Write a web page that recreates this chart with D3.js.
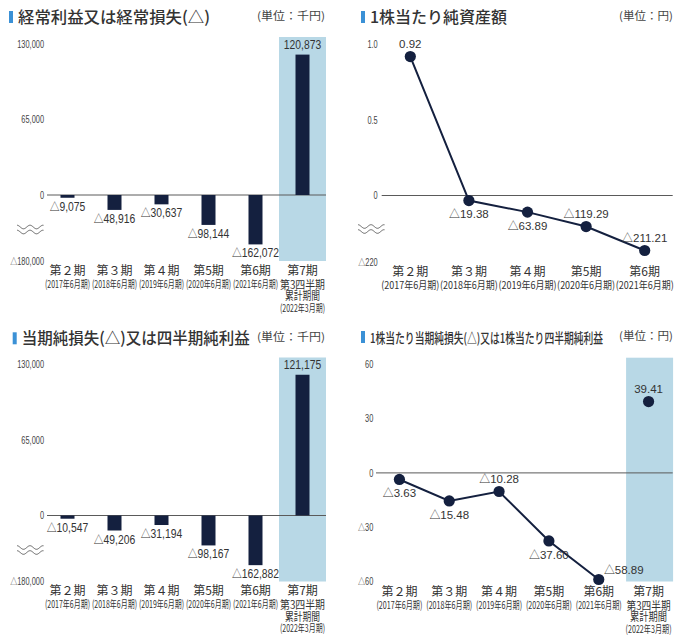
<!DOCTYPE html>
<html><head><meta charset="utf-8">
<script src="https://cdn.jsdelivr.net/npm/d3@7"></script>
<style>
body{margin:0;background:#fff;}
svg{display:block;}
</style></head><body>
<svg id="c" width="684" height="644"></svg>
<script>
// ---- data ----
const barCategories = ["第２期","第３期","第４期","第5期","第6期","第7期"];
const barPeriods = ["(2017年6月期)","(2018年6月期)","(2019年6月期)","(2020年6月期)","(2021年6月期)","(2022年3月期)"];
const lastExtraLines = ["第3四半期","累計期間"];
const ordinaryIncome = [-9075,-48916,-30637,-98144,-162072,120873];
const netIncome = [-10547,-49206,-31194,-98167,-162882,121175];
const barTicks = [-180000,0,65000,130000];

const bpsCategories = ["第２期","第３期","第４期","第5期","第6期"];
const bpsPeriods = ["(2017年6月期)","(2018年6月期)","(2019年6月期)","(2020年6月期)","(2021年6月期)"];
const bpsValues = [0.92,-19.38,-63.89,-119.29,-211.21];
const bpsTicks = [-220,0,0.5,1.0];
const bpsLabelSide = ["above","below","below","above","above"];

const epsValues = [-3.63,-15.48,-10.28,-37.60,-58.89,39.41];
const epsTicks = [-60,-30,0,30,60];
const epsLabelSide = ["below","below","above","below","right","above"];

// ---- styles ----
const svg = d3.select("#c");
const NAVY = "#14203f", BAND = "#b8d8e6", BLUE = "#3b91d6", TXT = "#333", AX = "#5a5a5a";
const CJK = "'Noto Sans CJK JP','Noto Sans',sans-serif";
const NUM = "'Liberation Sans',Arial,sans-serif";

// writes "△" (CJK glyph) + number into a text element
function triText(sel, fmt, triScale) {
  sel.each(function(d) {
    const t = d3.select(this);
    t.text(null);
    if (d < 0) t.append("tspan").attr("font-family", CJK).attr("font-size", (triScale || 1) + "em").text("△");
    t.append("tspan").text(fmt(Math.abs(d)));
  });
}
function condense(sel, k) {
  sel.each(function() {
    const w = this.getComputedTextLength();
    d3.select(this).attr("textLength", w * k).attr("lengthAdjust", "spacingAndGlyphs");
  });
}

function title(x, base, text, len, size, unit, unitRight, unitLen) {
  svg.append("rect").attr("x", x - 9).attr("y", base - 12).attr("width", 4).attr("height", 12).attr("fill", BLUE);
  svg.append("text").attr("x", x).attr("y", base).text(text)
    .attr("font-family", CJK).attr("font-size", size).attr("font-weight", 500).attr("fill", TXT)
    .attr("textLength", len).attr("lengthAdjust", "spacingAndGlyphs");
  svg.append("text").attr("x", unitRight).attr("y", base - 3).attr("text-anchor", "end").text(unit)
    .attr("font-family", CJK).attr("font-size", 11).attr("fill", "#444")
    .attr("textLength", unitLen).attr("lengthAdjust", "spacingAndGlyphs");
}

function wave(g, x0, yc) {
  for (const dy of [-2.5, 2.5]) {
    const pts = d3.range(0, 27, 0.5).map(i => [x0 + i, yc + dy - 1.8 * Math.cos(i / 26 * Math.PI * 4)]);
    g.append("path").attr("d", d3.line()(pts)).attr("fill", "none").attr("stroke", "#555").attr("stroke-width", 0.9);
  }
}

function yAxis(g, y, ticks, fmt, right) {
  const ax = g.append("g").attr("transform", `translate(${right},0)`)
    .call(d3.axisLeft(y).tickValues(ticks).tickSize(0).tickPadding(0));
  ax.select(".domain").remove();
  const txt = ax.selectAll("text").attr("font-family", NUM).attr("font-size", 10).attr("fill", "#444");
  triText(txt, fmt, 0.95);
  condense(txt, 0.74);
}

function xLabels(g, x, cats, periods, base, perLen, extraLen) {
  const cx = c => x(c) + x.bandwidth() / 2;
  g.selectAll(null).data(cats).join("text")
    .attr("x", cx).attr("y", base).attr("text-anchor", "middle").text(d => d)
    .attr("font-family", CJK).attr("font-size", 12).attr("fill", TXT);
  const n = cats.length;
  g.selectAll(null).data(periods).join("text")
    .attr("x", (d, i) => cx(cats[i]))
    .attr("y", (d, i) => (i === n - 1 && n === 6) ? base + 37 : base + 13)
    .attr("text-anchor", "middle").text(d => d)
    .attr("font-family", CJK).attr("font-size", 10.5).attr("fill", TXT)
    .attr("textLength", perLen).attr("lengthAdjust", "spacingAndGlyphs");
  if (n === 6) {
    g.selectAll(null).data(lastExtraLines).join("text")
      .attr("x", cx(cats[n - 1])).attr("y", (d, i) => base + 14 + i * 11.5)
      .attr("text-anchor", "middle").text(d => d)
      .attr("font-family", CJK).attr("font-size", 11.5).attr("fill", TXT)
      .attr("textLength", (d, i) => extraLen[i]).attr("lengthAdjust", "spacingAndGlyphs");
  }
}

function barPanel(oy, values) {
  const g = svg.append("g").attr("transform", `translate(0,${oy})`);
  const x = d3.scaleBand().domain(barCategories).range([44, 326]);
  const y = d3.scaleLinear().domain([-180000, -165000, 0, 130000]).range([261, 245.3, 195, 44]);
  const last = barCategories[barCategories.length - 1];
  g.append("rect").attr("x", x(last)).attr("width", x.bandwidth())
    .attr("y", y(130000) - 7).attr("height", y(-180000) - y(130000) + 7).attr("fill", BAND);
  g.append("line").attr("x1", 47).attr("x2", 326).attr("y1", y(0)).attr("y2", y(0)).attr("stroke", AX).attr("stroke-width", 1);
  const bw = 14;
  g.selectAll(null).data(values).join("rect")
    .attr("x", (d, i) => x(barCategories[i]) + x.bandwidth() / 2 - bw / 2).attr("width", bw)
    .attr("y", d => Math.min(y(d), y(0))).attr("height", d => Math.abs(y(d) - y(0)))
    .attr("fill", NAVY);
  const lab = g.selectAll(null).data(values).join("text")
    .attr("x", (d, i) => x(barCategories[i]) + x.bandwidth() / 2)
    .attr("y", d => d < 0 ? y(d) + 13 : y(d) - 6)
    .attr("text-anchor", "middle")
    .attr("font-family", NUM).attr("font-size", 12).attr("fill", TXT);
  triText(lab, d3.format(","), 0.95);
  condense(lab, 0.86);
  yAxis(g, y, barTicks, d3.format(","), 44);
  wave(g, 17, 229.5);
  xLabels(g, x, barCategories, barPeriods, 274.5, 45, [45, 35]);
}

function linePanel(cats, periods, values, sides, x, y, ticks, tickFmt, valFmt, tickRight, zeroX, waveY, labelBase, perLen, extraLen, band) {
  const g = svg.append("g");
  if (band) {
    const last = cats[cats.length - 1];
    g.append("rect").attr("x", x(last) + x.bandwidth() / 2 - 22.5).attr("width", 47)
      .attr("y", band[0]).attr("height", band[1] - band[0]).attr("fill", BAND);
  }
  g.append("line").attr("x1", zeroX[0]).attr("x2", zeroX[1]).attr("y1", y(0)).attr("y2", y(0)).attr("stroke", AX).attr("stroke-width", 1);
  yAxis(g, y, ticks, tickFmt, tickRight);
  if (waveY) wave(g, 358, waveY);
  const cx = (d, i) => x(cats[i]) + x.bandwidth() / 2;
  const pts = values.map((v, i) => ({v, i}));
  const lineVals = band ? pts.slice(0, -1) : pts;
  g.append("path").datum(lineVals)
    .attr("d", d3.line().x(d => cx(null, d.i)).y(d => y(d.v)))
    .attr("fill", "none").attr("stroke", NAVY).attr("stroke-width", 2);
  g.selectAll(null).data(values).join("circle")
    .attr("cx", cx).attr("cy", d => y(d)).attr("r", 5.6).attr("fill", NAVY);
  const lab = g.selectAll(null).data(values).join("text")
    .attr("x", (d, i) => cx(d, i) + (sides[i] === "right" ? 25 : 0))
    .attr("y", (d, i) => {
      const s = sides[i];
      if (s === "below") return y(d) + 17.8;
      if (s === "right") return y(d) - 5.7;
      return y(d) - 9;
    })
    .attr("text-anchor", "middle")
    .attr("font-family", NUM).attr("font-size", 11.5).attr("fill", TXT);
  triText(lab, valFmt, 0.95);
  xLabels(g, x, cats, periods, labelBase, perLen, extraLen);
}

// ---- titles ----
title(18, 23, "経常利益又は経常損失(△)", 192, 16, "(単位：千円)", 325, 68);
title(370, 23, "1株当たり純資産額", 137, 16, "(単位：円)", 673, 54);
title(21.7, 344.3, "当期純損失(△)又は四半期純利益", 228, 16, "(単位：千円)", 325, 68);
title(370, 343, "1株当たり当期純損失(△)又は1株当たり四半期純利益", 233, 13.5, "(単位：円)", 673, 54);

// ---- panels ----
barPanel(0, ordinaryIncome);
barPanel(320.5, netIncome);

{
  const x = d3.scaleBand().domain(bpsCategories).range([381, 674]);
  const y = d3.scaleLinear().domain([-220, -215, 0, 1]).range([262.5, 251.5, 195.5, 44.5]);
  const fmt = v => v === 0 ? "0" : (v < 10 ? d3.format(".1f")(v) : d3.format("d")(v));
  linePanel(bpsCategories, bpsPeriods, bpsValues, bpsLabelSide, x, y, bpsTicks, fmt, d3.format(".2f"),
    377.7, [381.7, 672.7], 229, 276, 58, null, null);
}
{
  const x = d3.scaleBand().domain(barCategories).range([374.5, 673.5]);
  const y = d3.scaleLinear().domain([-60, 60]).range([581.5, 364.3]);
  linePanel(barCategories, barPeriods, epsValues, epsLabelSide, x, y, epsTicks, d3.format("d"), d3.format(".2f"),
    373.3, [376, 672.7], null, 595.5, 46, [44, 37], [357.7, 581.5]);
}
</script>
</body></html>
